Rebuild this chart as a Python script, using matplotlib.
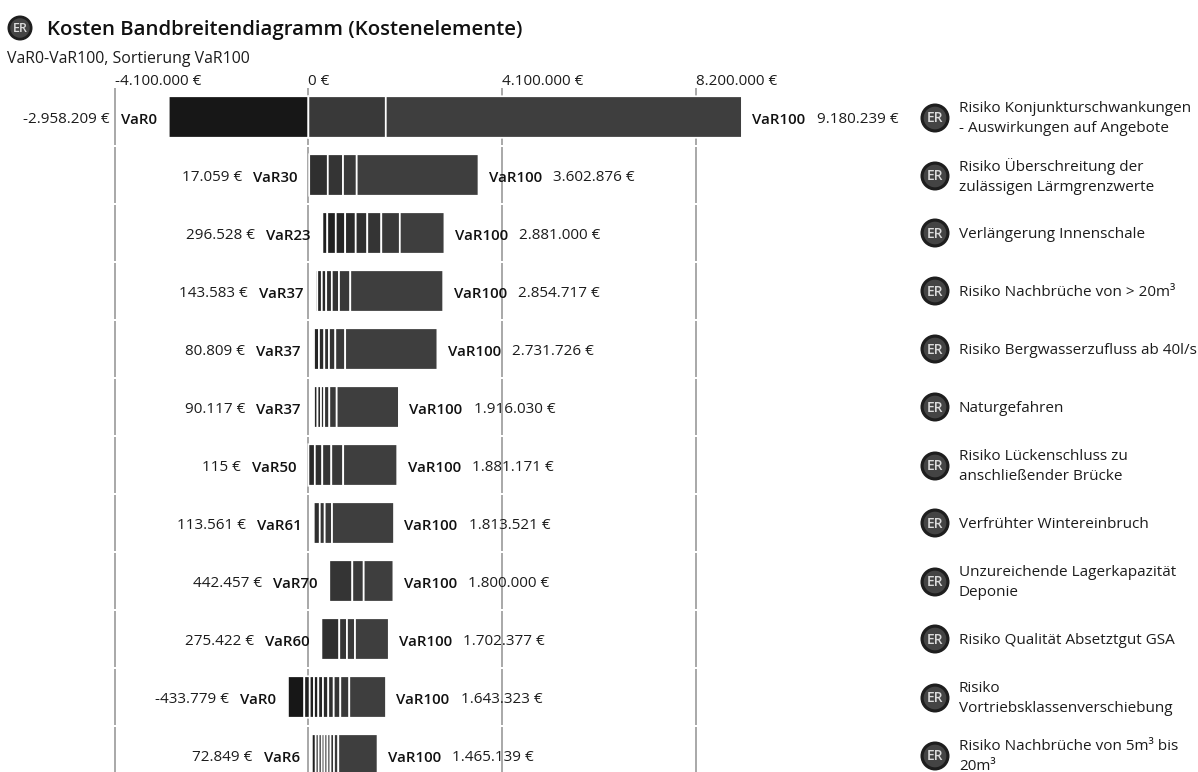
import matplotlib
matplotlib.use("Agg")
import matplotlib.pyplot as plt
from matplotlib.patches import Circle

FONT = "Open Sans"
plt.rcParams["font.family"] = [FONT, "DejaVu Sans"]

# Cost elements, top to bottom
names = [
    "Risiko Konjunkturschwankungen\n- Auswirkungen auf Angebote",
    "Risiko Überschreitung der\nzulässigen Lärmgrenzwerte",
    "Verlängerung Innenschale",
    "Risiko Nachbrüche von > 20m³",
    "Risiko Bergwasserzufluss ab 40l/s",
    "Naturgefahren",
    "Risiko Lückenschluss zu\nanschließender Brücke",
    "Verfrühter Wintereinbruch",
    "Unzureichende Lagerkapazität\nDeponie",
    "Risiko Qualität Absetztgut GSA",
    "Risiko\nVortriebsklassenverschiebung",
    "Risiko Nachbrüche von 5m³ bis\n20m³",
]
low_labels = ["VaR0", "VaR30", "VaR23", "VaR37", "VaR37", "VaR37",
              "VaR50", "VaR61", "VaR70", "VaR60", "VaR0", "VaR6"]
low_values = [-2958209, 17059, 296528, 143583, 80809, 90117,
              115, 113561, 442457, 275422, -433779, 72849]
high_values = [9180239, 3602876, 2881000, 2854717, 2731726, 1916030,
               1881171, 1813521, 1800000, 1702377, 1643323, 1465139]

# Intermediate VaR levels inside each band
breaks = [
    [0, 1639000],
    [411000, 733000, 1023000],
    [400000, 580000, 779000, 1002000, 1247000, 1544000, 1936000],
    [188000, 284000, 377000, 496000, 648000, 887000],
    [119000, 224000, 337000, 436000, 570000, 779000],
    [119000, 193000, 267000, 335000, 443000, 599000],
    [136000, 294000, 485000, 737000],
    [241000, 345000, 500000],
    [930000, 1171000],
    [654000, 817000, 987000],
    [-87000, 28000, 119000, 210000, 309000, 421000, 536000, 676000, 866000],
    [155000, 218000, 282000, 341000, 404000, 468000, 542000, 633000],
]
tick_values = [-4100000, 0, 4100000, 8200000]
tick_labels = ["-4.100.000 €", "0 €", "4.100.000 €", "8.200.000 €"]


def euro(v):
    return f"{v:,}".replace(",", ".") + " €"


W, H = 1198, 772
ZERO_PX, PX_PER_TICK = 308.4, 193.6
TOP_PX, ROW_PX = 117.0, 58.0
EUR_PER_PX = 4100000 / PX_PER_TICK
TEXT = "#1c1c1c"
FS = 10.95
FS_BOLD = 10.8
DROP = -2.0  # baseline nudge for row labels, in points

fig = plt.figure(figsize=(W / 100, H / 100), dpi=100, facecolor="white")
ax = fig.add_axes([0, 0, 1, 1])
ax.set_xlim(-ZERO_PX * EUR_PER_PX, (W - ZERO_PX) * EUR_PER_PX)
ax.set_ylim((H - TOP_PX) / ROW_PX, -TOP_PX / ROW_PX)
ax.axis("off")

# Pixel-space overlay for the title row and the badges
ov = fig.add_axes([0, 0, 1, 1], zorder=5)
ov.set_xlim(0, W)
ov.set_ylim(H, 0)
ov.axis("off")
ov.patch.set_alpha(0)


def badge(x, y, r, fs):
    ov.add_patch(Circle((x, y), r, fc="#1e1e1e", ec="none"))
    ov.add_patch(Circle((x, y), r * 0.78, fc="#444444", ec="none"))
    ov.text(x, y + 0.5, "ER", color="#dcdcdc", fontsize=fs, ha="center",
            va="center", fontweight="semibold")


# Gridlines, broken slightly between rows
for t in tick_values:
    ax.vlines(t, (88 - TOP_PX) / ROW_PX, 0.49, color="#9a9a9a", lw=1.2, zorder=1)
    for i in range(1, len(names)):
        ax.vlines(t, i - 0.49, i + 0.49, color="#9a9a9a", lw=1.2, zorder=1)

for t, lab in zip(tick_values, tick_labels):
    ax.annotate(lab, (t, (81.5 - TOP_PX) / ROW_PX), ha="left", va="center",
                fontsize=11.0, color=TEXT, zorder=4)

BAR_H = 41.5 / ROW_PX
for i, name in enumerate(names):
    edges = [low_values[i]] + breaks[i] + [high_values[i]]
    n = len(edges) - 1
    for j in range(n):
        if edges[j + 1] <= 0:
            shade = 0x17
        else:
            shade = max(0x20, 0x3e - 5 * (n - 1 - j))
        bars = ax.barh(i, edges[j + 1] - edges[j], left=edges[j], height=BAR_H,
                       color=f"#{shade:02x}{shade:02x}{shade:02x}",
                       edgecolor="white", linewidth=1.25, zorder=2)
        for b in bars:
            b.set_snap(False)

    # Lower bound: VaR level, then its value further to the left
    lo = ax.annotate(low_labels[i], (low_values[i], i), xytext=(-8.5, DROP),
                     textcoords="offset points", ha="right", va="center",
                     fontsize=FS_BOLD, fontweight="semibold", color="#111111", zorder=4)
    ax.annotate(euro(low_values[i]), xy=(0, i), xycoords=(lo, "data"), xytext=(-8, DROP),
                textcoords="offset points", ha="right", va="center",
                fontsize=FS, color=TEXT, zorder=4)
    # Upper bound: VaR100, then its value further to the right
    hi = ax.annotate("VaR100", (high_values[i], i), xytext=(7.5, DROP),
                     textcoords="offset points", ha="left", va="center",
                     fontsize=FS_BOLD, fontweight="semibold", color="#111111", zorder=4)
    ax.annotate(euro(high_values[i]), xy=(1, i), xycoords=(hi, "data"), xytext=(8, DROP),
                textcoords="offset points", ha="left", va="center",
                fontsize=FS, color=TEXT, zorder=4)

    cy = TOP_PX + ROW_PX * i
    two_lines = "\n" in name
    badge(935, cy + (1 if two_lines else 0), 14.5, 10)
    ov.text(959, cy + (1.5 if two_lines else 2.0), name, ha="left", va="center",
            fontsize=11.0, color=TEXT, linespacing=1.4)

badge(20, 28, 12.5, 9)
ov.text(47, 30, "Kosten Bandbreitendiagramm (Kostenelemente)", ha="left",
        va="center", fontsize=14.65, fontweight="semibold", color="#111111")
ov.text(7, 59, "VaR0-VaR100, Sortierung VaR100", ha="left", va="center",
        fontsize=11.4, color=TEXT)

fig.savefig("out.png", dpi=100, facecolor="white")
